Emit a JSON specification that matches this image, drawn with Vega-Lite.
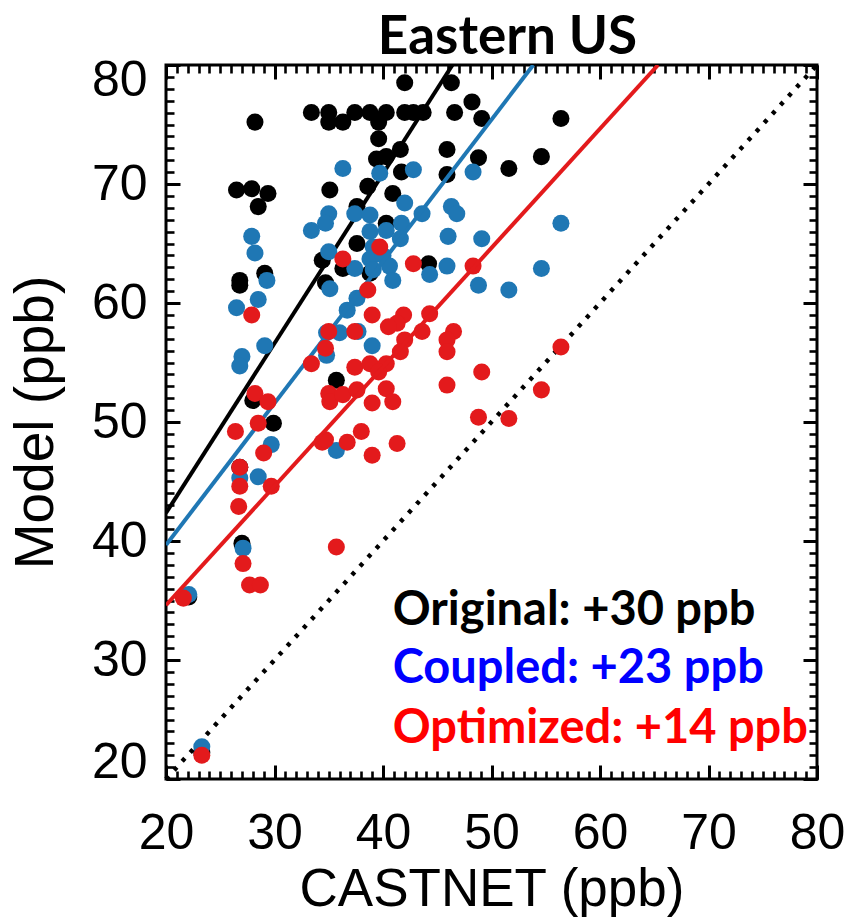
{
  "$schema": "https://vega.github.io/schema/vega-lite/v6.json",
  "width": 651,
  "height": 714,
  "autosize": {"type": "none"},
  "padding": {"left": 166, "top": 65, "right": 34, "bottom": 139},
  "background": "white",
  "config": {
    "view": {"stroke": "#000000", "strokeWidth": 3},
    "axis": {"grid": false, "domain": false}
  },
  "datasets": {
    "diag": [{"x": 20, "y": 20}, {"x": 80, "y": 80}],
    "orig": [
      {"x": 42.0, "y": 78.5}, {"x": 46.3, "y": 78.5}, {"x": 28.2, "y": 75.2},
      {"x": 33.4, "y": 76.0}, {"x": 35.0, "y": 76.0}, {"x": 37.4, "y": 76.0}, {"x": 38.8, "y": 76.0},
      {"x": 40.3, "y": 76.0}, {"x": 42.0, "y": 76.0}, {"x": 42.8, "y": 76.0}, {"x": 43.7, "y": 76.0},
      {"x": 35.0, "y": 75.2}, {"x": 36.3, "y": 75.2}, {"x": 39.6, "y": 75.2},
      {"x": 46.6, "y": 76.0}, {"x": 48.2, "y": 76.9}, {"x": 49.1, "y": 75.5}, {"x": 56.4, "y": 75.5},
      {"x": 39.6, "y": 73.8}, {"x": 40.3, "y": 72.3}, {"x": 41.6, "y": 72.9}, {"x": 39.4, "y": 72.1},
      {"x": 45.9, "y": 72.9}, {"x": 48.8, "y": 72.2}, {"x": 54.6, "y": 72.3}, {"x": 51.6, "y": 71.3},
      {"x": 45.9, "y": 70.8}, {"x": 41.7, "y": 71.0}, {"x": 26.5, "y": 69.5}, {"x": 27.9, "y": 69.6},
      {"x": 29.4, "y": 69.2}, {"x": 28.5, "y": 68.1}, {"x": 35.1, "y": 69.5}, {"x": 38.6, "y": 69.8},
      {"x": 40.9, "y": 69.2}, {"x": 37.6, "y": 68.1}, {"x": 40.3, "y": 66.7}, {"x": 37.6, "y": 65.0},
      {"x": 34.4, "y": 63.6}, {"x": 36.3, "y": 62.9}, {"x": 44.2, "y": 63.3}, {"x": 29.1, "y": 62.5},
      {"x": 26.8, "y": 61.9}, {"x": 26.8, "y": 61.5}, {"x": 34.7, "y": 61.7}, {"x": 38.8, "y": 62.5},
      {"x": 35.7, "y": 53.5}, {"x": 28.0, "y": 51.8}, {"x": 29.9, "y": 49.9}, {"x": 27.0, "y": 39.8},
      {"x": 26.8, "y": 46.2}, {"x": 23.3, "y": 22.2}, {"x": 22.1, "y": 35.3}
    ],
    "coup": [
      {"x": 36.3, "y": 71.3}, {"x": 39.7, "y": 70.9}, {"x": 42.8, "y": 71.2}, {"x": 48.3, "y": 71.0},
      {"x": 35.0, "y": 67.5}, {"x": 34.7, "y": 66.7}, {"x": 33.4, "y": 66.1}, {"x": 37.4, "y": 67.5},
      {"x": 38.8, "y": 67.4}, {"x": 42.0, "y": 68.4}, {"x": 43.6, "y": 67.5}, {"x": 46.3, "y": 68.1},
      {"x": 46.8, "y": 67.5}, {"x": 56.4, "y": 66.7}, {"x": 40.3, "y": 66.1}, {"x": 41.7, "y": 66.7},
      {"x": 41.6, "y": 65.4}, {"x": 38.8, "y": 66.0}, {"x": 39.1, "y": 64.7}, {"x": 46.0, "y": 65.6},
      {"x": 49.1, "y": 65.4}, {"x": 27.9, "y": 65.6}, {"x": 28.2, "y": 64.2}, {"x": 35.0, "y": 64.3},
      {"x": 38.8, "y": 63.7}, {"x": 40.0, "y": 64.0}, {"x": 40.6, "y": 63.1}, {"x": 39.1, "y": 62.8},
      {"x": 37.4, "y": 62.9}, {"x": 44.3, "y": 62.4}, {"x": 45.9, "y": 63.1}, {"x": 40.9, "y": 61.9},
      {"x": 29.3, "y": 61.9}, {"x": 54.6, "y": 62.9}, {"x": 48.8, "y": 61.5}, {"x": 51.6, "y": 61.1},
      {"x": 35.1, "y": 61.2}, {"x": 28.5, "y": 60.3}, {"x": 26.5, "y": 59.6}, {"x": 37.6, "y": 60.4},
      {"x": 36.7, "y": 59.4}, {"x": 34.8, "y": 57.5}, {"x": 36.0, "y": 57.5}, {"x": 37.7, "y": 57.6},
      {"x": 39.0, "y": 56.4}, {"x": 29.1, "y": 56.4}, {"x": 27.0, "y": 55.5}, {"x": 26.8, "y": 54.7},
      {"x": 34.8, "y": 55.6}, {"x": 29.7, "y": 48.1}, {"x": 35.7, "y": 47.6}, {"x": 26.8, "y": 45.3},
      {"x": 28.5, "y": 45.4}, {"x": 27.1, "y": 39.4}, {"x": 22.1, "y": 35.5}, {"x": 23.3, "y": 22.7}
    ],
    "opt": [
      {"x": 39.7, "y": 64.7}, {"x": 36.3, "y": 63.7}, {"x": 42.8, "y": 63.3}, {"x": 48.3, "y": 63.1},
      {"x": 27.9, "y": 59.0}, {"x": 38.6, "y": 61.1}, {"x": 39.0, "y": 59.0}, {"x": 41.9, "y": 59.0},
      {"x": 41.3, "y": 58.3}, {"x": 44.3, "y": 59.1}, {"x": 40.5, "y": 58.0}, {"x": 43.6, "y": 57.6},
      {"x": 46.5, "y": 57.6}, {"x": 45.9, "y": 56.9}, {"x": 35.0, "y": 57.6}, {"x": 37.4, "y": 57.6},
      {"x": 45.9, "y": 55.9}, {"x": 42.0, "y": 56.9}, {"x": 41.6, "y": 55.9}, {"x": 34.7, "y": 56.2},
      {"x": 33.4, "y": 54.9}, {"x": 37.4, "y": 54.6}, {"x": 38.8, "y": 54.9}, {"x": 40.3, "y": 54.9},
      {"x": 39.6, "y": 54.2}, {"x": 49.1, "y": 54.2}, {"x": 45.9, "y": 53.1}, {"x": 54.6, "y": 52.7},
      {"x": 35.0, "y": 52.4}, {"x": 35.1, "y": 51.7}, {"x": 36.3, "y": 52.3}, {"x": 37.6, "y": 52.7},
      {"x": 40.3, "y": 52.8}, {"x": 40.9, "y": 51.7}, {"x": 39.0, "y": 51.6}, {"x": 28.2, "y": 52.4},
      {"x": 29.4, "y": 51.7}, {"x": 28.5, "y": 49.9}, {"x": 26.4, "y": 49.2}, {"x": 48.8, "y": 50.4},
      {"x": 51.6, "y": 50.3}, {"x": 34.4, "y": 48.3}, {"x": 34.7, "y": 48.5}, {"x": 36.7, "y": 48.3},
      {"x": 38.0, "y": 49.2}, {"x": 39.0, "y": 47.2}, {"x": 41.3, "y": 48.2}, {"x": 29.0, "y": 47.4},
      {"x": 26.8, "y": 46.2}, {"x": 26.8, "y": 44.6}, {"x": 29.7, "y": 44.6}, {"x": 26.7, "y": 42.9},
      {"x": 35.7, "y": 39.5}, {"x": 27.1, "y": 38.1}, {"x": 27.7, "y": 36.3}, {"x": 28.7, "y": 36.3},
      {"x": 21.6, "y": 35.2}, {"x": 23.3, "y": 22.0}, {"x": 56.4, "y": 56.3}
    ],
    "fitOrig": [{"x": 20, "y": 42.35}, {"x": 46.4, "y": 80}],
    "fitCoup": [{"x": 20, "y": 39.66}, {"x": 53.85, "y": 80}],
    "fitOpt": [{"x": 20, "y": 34.6}, {"x": 65.35, "y": 80}],
    "notes": [
      {"series": "Original", "label": "Original: +30 ppb", "x": 40.9, "y": 32.9},
      {"series": "Coupled", "label": "Coupled: +23 ppb", "x": 40.9, "y": 28.1},
      {"series": "Optimized", "label": "Optimized: +14 ppb", "x": 40.9, "y": 23.0}
    ]
  },
  "resolve": {"axis": {"x": "independent", "y": "independent"}},
  "layer": [
    {
      "data": {"name": "diag"},
      "mark": {"type": "line", "color": "#000000", "strokeWidth": 4.5, "strokeDash": [4, 8]},
      "encoding": {
        "x": {"field": "x", "type": "quantitative", "scale": {"domain": [20, 80], "nice": false, "zero": false},
          "axis": {"orient": "bottom", "values": [20, 30, 40, 50, 60, 70, 80], "ticks": false, "tickSize": 0, "domain": false, "grid": false,
            "labelFlush": false, "labelOverlap": false, "labelFont": "Liberation Sans", "labelFontSize": 50, "labelColor": "#000000",
            "labelPadding": 69, "labelBaseline": "alphabetic",
            "title": "CASTNET (ppb)", "titleFont": "Liberation Sans", "titleFontSize": 53, "titleFontWeight": "normal", "titleColor": "#000000",
            "titleX": 325.5, "titleY": 126, "titleBaseline": "alphabetic", "titleAlign": "center"}},
        "y": {"field": "y", "type": "quantitative", "scale": {"domain": [20, 80], "nice": false, "zero": false},
          "axis": {"orient": "left", "values": [20, 30, 40, 50, 60, 70, 80], "ticks": false, "tickSize": 0, "domain": false, "grid": false,
            "labelFlush": false, "labelOverlap": false, "labelFont": "Liberation Sans", "labelFontSize": 50, "labelColor": "#000000",
            "labelPadding": 19, "labelBaseline": "middle",
            "labelOffset": {"condition": [{"test": "datum.value == 80", "value": 15}, {"test": "datum.value == 20", "value": -17}], "value": 0},
            "title": "Model (ppb)", "titleFont": "Liberation Sans", "titleFontSize": 55, "titleFontWeight": "normal", "titleColor": "#000000",
            "titleX": -114, "titleY": 357, "titleAngle": 270, "titleBaseline": "alphabetic", "titleAlign": "center"}}
      }
    },
    {
      "data": {"name": "orig"},
      "mark": {"type": "circle", "size": 290, "opacity": 1, "color": "#000000"},
      "encoding": {
        "x": {"field": "x", "type": "quantitative", "scale": {"domain": [20, 80], "nice": false, "zero": false},
          "axis": {"orient": "bottom", "offset": -14, "values": [20, 30, 40, 50, 60, 70, 80], "labels": false, "ticks": true, "tickSize": 14, "tickWidth": 3, "tickColor": "#000000", "domain": false, "grid": false, "title": null}},
        "y": {"field": "y", "type": "quantitative", "scale": {"domain": [20, 80], "nice": false, "zero": false},
          "axis": {"orient": "left", "offset": -14, "values": [20, 30, 40, 50, 60, 70, 80], "labels": false, "ticks": true, "tickSize": 14, "tickWidth": 3, "tickColor": "#000000", "domain": false, "grid": false, "title": null}}
      }
    },
    {
      "data": {"name": "fitOrig"},
      "mark": {"type": "line", "color": "#000000", "strokeWidth": 4, "clip": true},
      "encoding": {
        "x": {"field": "x", "type": "quantitative", "scale": {"domain": [20, 80], "nice": false, "zero": false},
          "axis": {"orient": "bottom", "offset": -8, "values": [20, 21, 22, 23, 24, 25, 26, 27, 28, 29, 30, 31, 32, 33, 34, 35, 36, 37, 38, 39, 40, 41, 42, 43, 44, 45, 46, 47, 48, 49, 50, 51, 52, 53, 54, 55, 56, 57, 58, 59, 60, 61, 62, 63, 64, 65, 66, 67, 68, 69, 70, 71, 72, 73, 74, 75, 76, 77, 78, 79, 80],
            "labels": false, "ticks": true, "tickSize": 8, "tickWidth": 2.6, "tickColor": "#000000", "domain": false, "grid": false, "title": null}},
        "y": {"field": "y", "type": "quantitative", "scale": {"domain": [20, 80], "nice": false, "zero": false},
          "axis": {"orient": "left", "offset": -8, "values": [20, 21, 22, 23, 24, 25, 26, 27, 28, 29, 30, 31, 32, 33, 34, 35, 36, 37, 38, 39, 40, 41, 42, 43, 44, 45, 46, 47, 48, 49, 50, 51, 52, 53, 54, 55, 56, 57, 58, 59, 60, 61, 62, 63, 64, 65, 66, 67, 68, 69, 70, 71, 72, 73, 74, 75, 76, 77, 78, 79, 80],
            "labels": false, "ticks": true, "tickSize": 8, "tickWidth": 2.6, "tickColor": "#000000", "domain": false, "grid": false, "title": null}}
      }
    },
    {
      "data": {"name": "coup"},
      "mark": {"type": "circle", "size": 290, "opacity": 1, "color": "#1f77b4"},
      "encoding": {
        "x": {"field": "x", "type": "quantitative", "scale": {"domain": [20, 80], "nice": false, "zero": false},
          "axis": {"orient": "top", "offset": -14, "values": [20, 30, 40, 50, 60, 70, 80], "labels": false, "ticks": true, "tickSize": 14, "tickWidth": 3, "tickColor": "#000000", "domain": false, "grid": false,
            "title": "Eastern US", "titleFont": "Lato", "titleFontWeight": "bold", "titleFontSize": 53, "titleColor": "#000000",
            "titleX": 341, "titleY": -26, "titleBaseline": "alphabetic", "titleAlign": "center"}},
        "y": {"field": "y", "type": "quantitative", "scale": {"domain": [20, 80], "nice": false, "zero": false},
          "axis": {"orient": "right", "offset": -14, "values": [20, 30, 40, 50, 60, 70, 80], "labels": false, "ticks": true, "tickSize": 14, "tickWidth": 3, "tickColor": "#000000", "domain": false, "grid": false, "title": null}}
      }
    },
    {
      "data": {"name": "fitCoup"},
      "mark": {"type": "line", "color": "#1f77b4", "strokeWidth": 4, "clip": true},
      "encoding": {
        "x": {"field": "x", "type": "quantitative", "scale": {"domain": [20, 80], "nice": false, "zero": false},
          "axis": {"orient": "top", "offset": -8, "values": [20, 21, 22, 23, 24, 25, 26, 27, 28, 29, 30, 31, 32, 33, 34, 35, 36, 37, 38, 39, 40, 41, 42, 43, 44, 45, 46, 47, 48, 49, 50, 51, 52, 53, 54, 55, 56, 57, 58, 59, 60, 61, 62, 63, 64, 65, 66, 67, 68, 69, 70, 71, 72, 73, 74, 75, 76, 77, 78, 79, 80],
            "labels": false, "ticks": true, "tickSize": 8, "tickWidth": 2.6, "tickColor": "#000000", "domain": false, "grid": false, "title": null}},
        "y": {"field": "y", "type": "quantitative", "scale": {"domain": [20, 80], "nice": false, "zero": false},
          "axis": {"orient": "right", "offset": -8, "values": [20, 21, 22, 23, 24, 25, 26, 27, 28, 29, 30, 31, 32, 33, 34, 35, 36, 37, 38, 39, 40, 41, 42, 43, 44, 45, 46, 47, 48, 49, 50, 51, 52, 53, 54, 55, 56, 57, 58, 59, 60, 61, 62, 63, 64, 65, 66, 67, 68, 69, 70, 71, 72, 73, 74, 75, 76, 77, 78, 79, 80],
            "labels": false, "ticks": true, "tickSize": 8, "tickWidth": 2.6, "tickColor": "#000000", "domain": false, "grid": false, "title": null}}
      }
    },
    {
      "data": {"name": "opt"},
      "mark": {"type": "circle", "size": 290, "opacity": 1, "color": "#e31a1c"},
      "encoding": {
        "x": {"field": "x", "type": "quantitative", "scale": {"domain": [20, 80], "nice": false, "zero": false}, "axis": null},
        "y": {"field": "y", "type": "quantitative", "scale": {"domain": [20, 80], "nice": false, "zero": false}, "axis": null}
      }
    },
    {
      "data": {"name": "fitOpt"},
      "mark": {"type": "line", "color": "#e31a1c", "strokeWidth": 4, "clip": true},
      "encoding": {
        "x": {"field": "x", "type": "quantitative", "scale": {"domain": [20, 80], "nice": false, "zero": false}, "axis": null},
        "y": {"field": "y", "type": "quantitative", "scale": {"domain": [20, 80], "nice": false, "zero": false}, "axis": null}
      }
    },
    {
      "data": {"name": "notes"},
      "mark": {"type": "text", "align": "left", "baseline": "alphabetic", "font": "Lato", "fontWeight": "bold", "fontSize": 47},
      "encoding": {
        "x": {"field": "x", "type": "quantitative", "scale": {"domain": [20, 80], "nice": false, "zero": false}, "axis": null},
        "y": {"field": "y", "type": "quantitative", "scale": {"domain": [20, 80], "nice": false, "zero": false}, "axis": null},
        "text": {"field": "label", "type": "nominal"},
        "fill": {"field": "series", "type": "nominal", "scale": {"domain": ["Original", "Coupled", "Optimized"], "range": ["#000000", "#0000ff", "#ff0000"]}, "legend": null}
      }
    }
  ]
}
